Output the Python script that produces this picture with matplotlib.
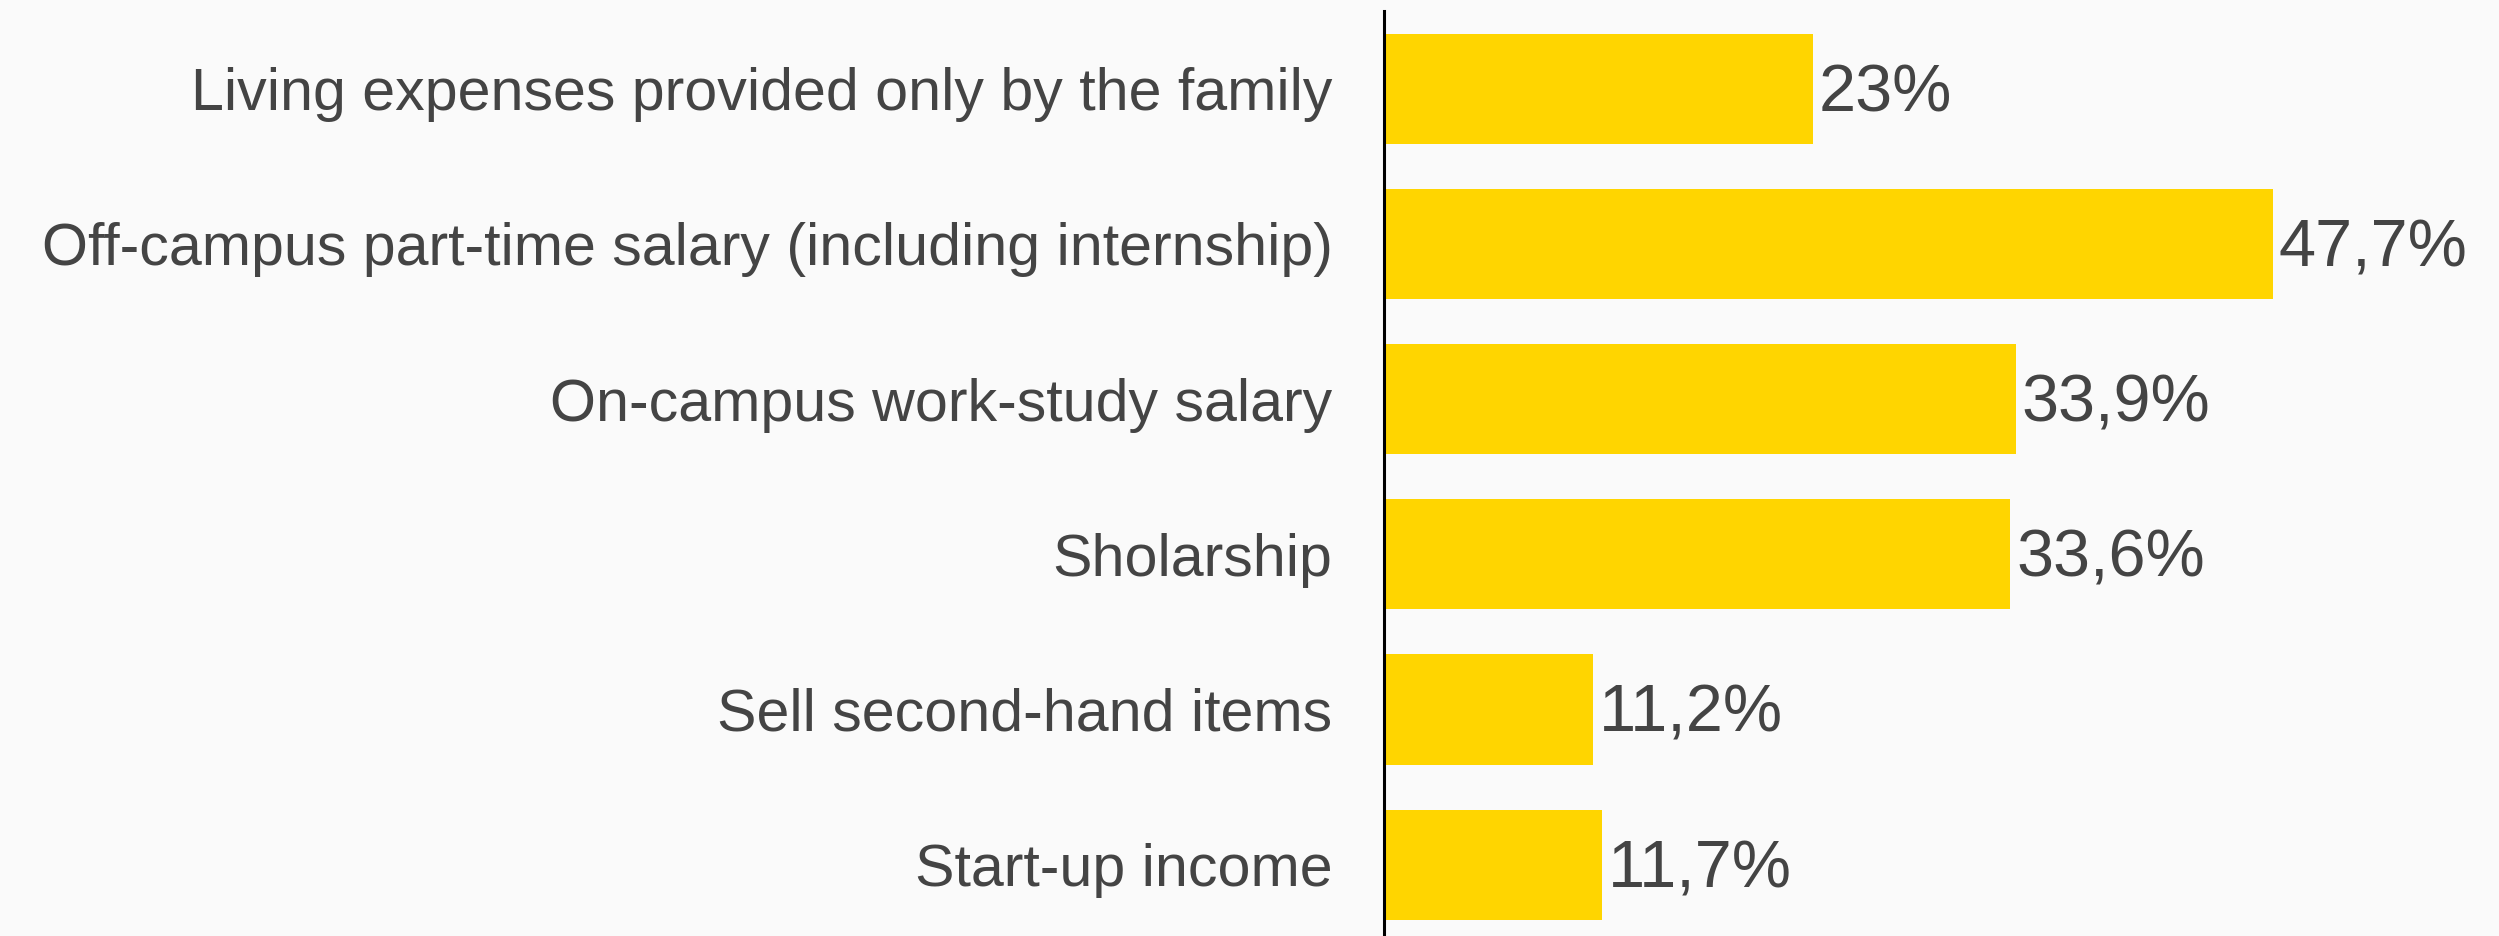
import matplotlib
matplotlib.use("Agg")
import matplotlib.pyplot as plt

categories = [
    "Living expenses provided only by the family",
    "Off-campus part-time salary (including internship)",
    "On-campus work-study salary",
    "Sholarship",
    "Sell second-hand items",
    "Start-up income",
]
values = [23.0, 47.7, 33.9, 33.6, 11.2, 11.7]
value_labels = ["23%", "47,7%", "33,9%", "33,6%", "11,2%", "11,7%"]

plt.rcParams['font.family'] = ['Liberation Sans', 'DejaVu Sans']

W, H, DPI = 2499, 936, 100
fig = plt.figure(figsize=(W / DPI, H / DPI), dpi=DPI)
bg = "#FAFAFA"
fig.patch.set_facecolor(bg)

ax_left = 1384 / W
ax_top = 1 - 11 / H
ax = fig.add_axes([ax_left, 0, 1 - ax_left, ax_top])
ax.set_facecolor(bg)

ypos = list(range(len(categories)))
ax.barh(ypos, values, height=0.71, color="#FFD500", zorder=2)
ax.set_xlim(0, 59.8)
ax.set_ylim(5.46, -0.5)

text_color = "#444444"
ax.set_yticks(ypos)
ax.set_yticklabels(categories, fontsize=42.6, color=text_color)
ax.tick_params(axis='y', length=0, pad=37)
ax.set_xticks([])
for s in ["top", "right", "bottom"]:
    ax.spines[s].set_visible(False)
ax.spines["left"].set_linewidth(2.2)
ax.spines["left"].set_color("black")

for y, v, lab in zip(ypos, values, value_labels):
    ax.annotate(lab, xy=(v, y), xytext=(4, -4), textcoords="offset points",
                va="center", ha="left", fontsize=48, color=text_color)

fig.savefig("out.png", dpi=DPI, facecolor=bg)
